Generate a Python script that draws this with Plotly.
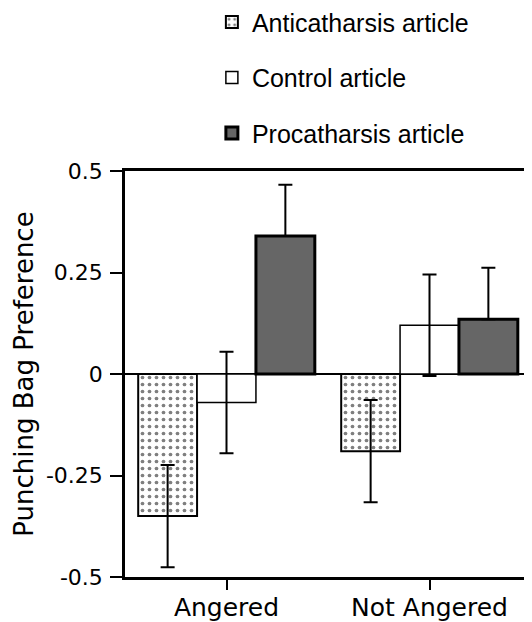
import plotly.graph_objects as go

categories = ["Angered", "Not Angered"]
anticatharsis = [-0.35, -0.19]
control = [-0.07, 0.12]
procatharsis = [0.34, 0.135]
se_anti = [0.126, 0.126]
se_control = [0.125, 0.125]
se_pro = [0.126, 0.127]
ytick_vals = [-0.5, -0.25, 0, 0.25, 0.5]
ytick_text = ["-0.5", "-0.25", "0", "0.25", "0.5"]

FONT = "DejaVu Sans"
LFONT = "Liberation Sans"

fig = go.Figure()
fig.add_trace(go.Bar(
    x=categories, y=anticatharsis, name="Anticatharsis article",
    legendgroup="a",
    marker=dict(color="white", line=dict(color="black", width=2),
                pattern=dict(shape=".", fgcolor="black", bgcolor="white",
                             size=7, solidity=0.22, fillmode="overlay")),
    error_y=dict(type="data", array=se_anti, color="black", thickness=2, width=7),
))
fig.add_trace(go.Bar(
    x=categories, y=control, name="Control article",
    legendgroup="b",
    marker=dict(color="white", line=dict(color="black", width=1.5)),
    error_y=dict(type="data", array=se_control, color="black", thickness=2, width=7),
))
fig.add_trace(go.Bar(
    x=categories, y=procatharsis, name="Procatharsis article",
    legendgroup="c",
    marker=dict(color="#666666", line=dict(color="black", width=3)),
    error_y=dict(type="data", symmetric=False, array=se_pro,
                 arrayminus=[0 for _ in se_pro],
                 color="black", thickness=2, width=7),
))

fig.update_layout(
    width=524, height=614,
    margin=dict(l=117, r=1, t=163, b=45, autoexpand=False),
    paper_bgcolor="white", plot_bgcolor="white",
    barmode="group", bargap=0.13, bargroupgap=0,
    showlegend=True,
    legend=dict(x=0.214, y=1.423, xanchor="left", yanchor="top",
                font=dict(family=LFONT, size=25, color="black"),
                tracegroupgap=20, bgcolor="rgba(0,0,0,0)"),
    font=dict(family=FONT, color="black"),
)
fig.update_xaxes(
    range=[-0.5, 1.5], showline=True, linecolor="black", linewidth=2.5,
    mirror=True, ticks="outside", ticklen=10, tickwidth=1.5, tickcolor="black",
    tickfont=dict(family=FONT, size=25, color="black"), showgrid=False,
    ticklabelstandoff=-4, automargin=False,
)
fig.update_yaxes(
    range=[-0.5, 0.5], tickvals=ytick_vals, ticktext=ytick_text,
    showline=True, linecolor="black", linewidth=2.5, mirror=True,
    ticks="outside", ticklen=12, tickwidth=2, tickcolor="black",
    tickfont=dict(family=FONT, size=22, color="black"), ticklabelstandoff=3,
    showgrid=False, zeroline=True, zerolinecolor="black", zerolinewidth=1.5,
    automargin=False,
    title=dict(text="Punching Bag Preference",
               font=dict(family=FONT, size=26, color="black"), standoff=5),
)

fig.write_html("out.html")
